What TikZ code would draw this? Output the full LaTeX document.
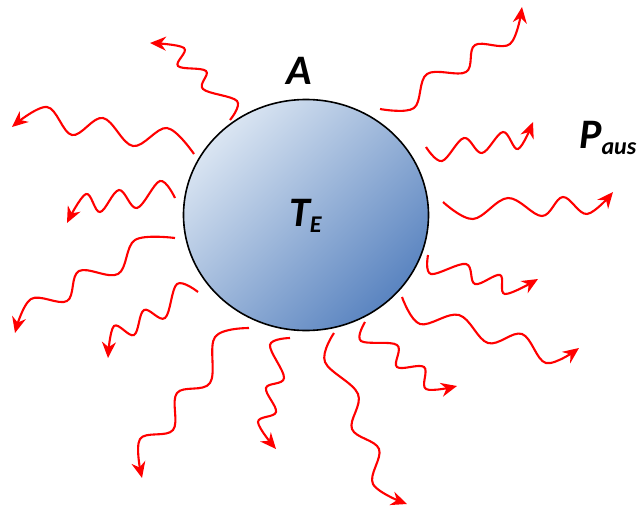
\documentclass[tikz,border=0pt]{standalone}
\usepackage{fontspec}
\setmainfont{Carlito}
\usepackage{tikz}
\usetikzlibrary{arrows.meta,shapes.geometric}
\definecolor{radred}{RGB}{255, 0, 0}
\definecolor{bodylight}{RGB}{218, 229, 242}
\definecolor{bodydark}{RGB}{90, 132, 192}
\newcommand{\lowsub}[1]{\raisebox{-6pt}{\fontsize{24}{24}\selectfont #1}}

\begin{document}
\begin{tikzpicture}[
    x=1pt, y=-1pt,
    body/.style={ellipse,draw=black,line width=1.6pt,minimum width=245pt,minimum height=231pt,
                 inner sep=0pt,top color=bodylight,bottom color=bodydark,shading angle=45},
    wave/.style={draw=radred,line width=2.1pt,-{Stealth[length=16pt,width=14pt]}},
    lbl/.style={font=\fontsize{42}{42}\selectfont\bfseries\itshape,inner sep=0pt,anchor=base west}
]
\useasboundingbox (0,0) rectangle (643,512);
\node[body] (earth) at (306,215) {};
\node[lbl] (temp) at (289,226) {T\lowsub{E}};
\node[lbl] (area) at (286,84) {A};
\node[lbl] (power) at (579,148) {P\lowsub{aus}};

\draw[wave] plot[smooth,tension=0.6] coordinates {(230,120) (237,101) (203,89) (206,71) (178,66) (184,48) (150,43)};
\draw[wave] plot[smooth,tension=0.6] coordinates {(194,154) (167,128) (133,146) (103,118) (72,135) (47,107) (12,127)};
\draw[wave] plot[smooth,tension=0.6] coordinates {(175,198) (160,181) (137,208) (119,190) (100,212) (86,194) (67,223)};
\draw[wave] plot[smooth,tension=0.6] coordinates {(175,238) (135,240) (118,274) (79,271) (67,301) (31,299) (15,333)};
\draw[wave] plot[smooth,tension=0.6] coordinates {(198,292) (177,284) (165,318) (144,310) (134,335) (114,326) (108,358)};
\draw[wave] plot[smooth,tension=0.6] coordinates {(249,328) (215,337) (210,383) (177,393) (173,430) (140,439) (142,478)};
\draw[wave] plot[smooth,tension=0.6] coordinates {(290,338) (270,345) (284,378) (266,388) (276,412) (258,422) (276,449)};
\draw[wave] plot[smooth,tension=0.6] coordinates {(334,333) (325,362) (358,394) (352,429) (379,449) (373,484) (407,504)};
\draw[wave] plot[smooth,tension=0.6] coordinates {(365,322) (361,341) (397,345) (397,367) (424,367) (426,389) (457,386)};
\draw[wave] plot[smooth,tension=0.6] coordinates {(402,297) (420,324) (459,315) (488,343) (522,334) (546,363) (579,348)};
\draw[wave] plot[smooth,tension=0.6] coordinates {(428,255) (431,274) (466,264) (475,284) (500,275) (505,294) (538,279)};
\draw[wave] plot[smooth,tension=0.6] coordinates {(380,109) (414,108) (427,74) (466,72) (475,45) (510,44) (522,7)};
\draw[wave] plot[smooth,tension=0.6] coordinates {(426,147) (442,161) (464,138) (482,153) (503,132) (518,149) (533,122)};
\draw[wave] plot[smooth,tension=0.6] coordinates {(443,202) (473,219) (508,198) (542,216) (563,197) (587,214) (613,192)};
\end{tikzpicture}
\end{document}
